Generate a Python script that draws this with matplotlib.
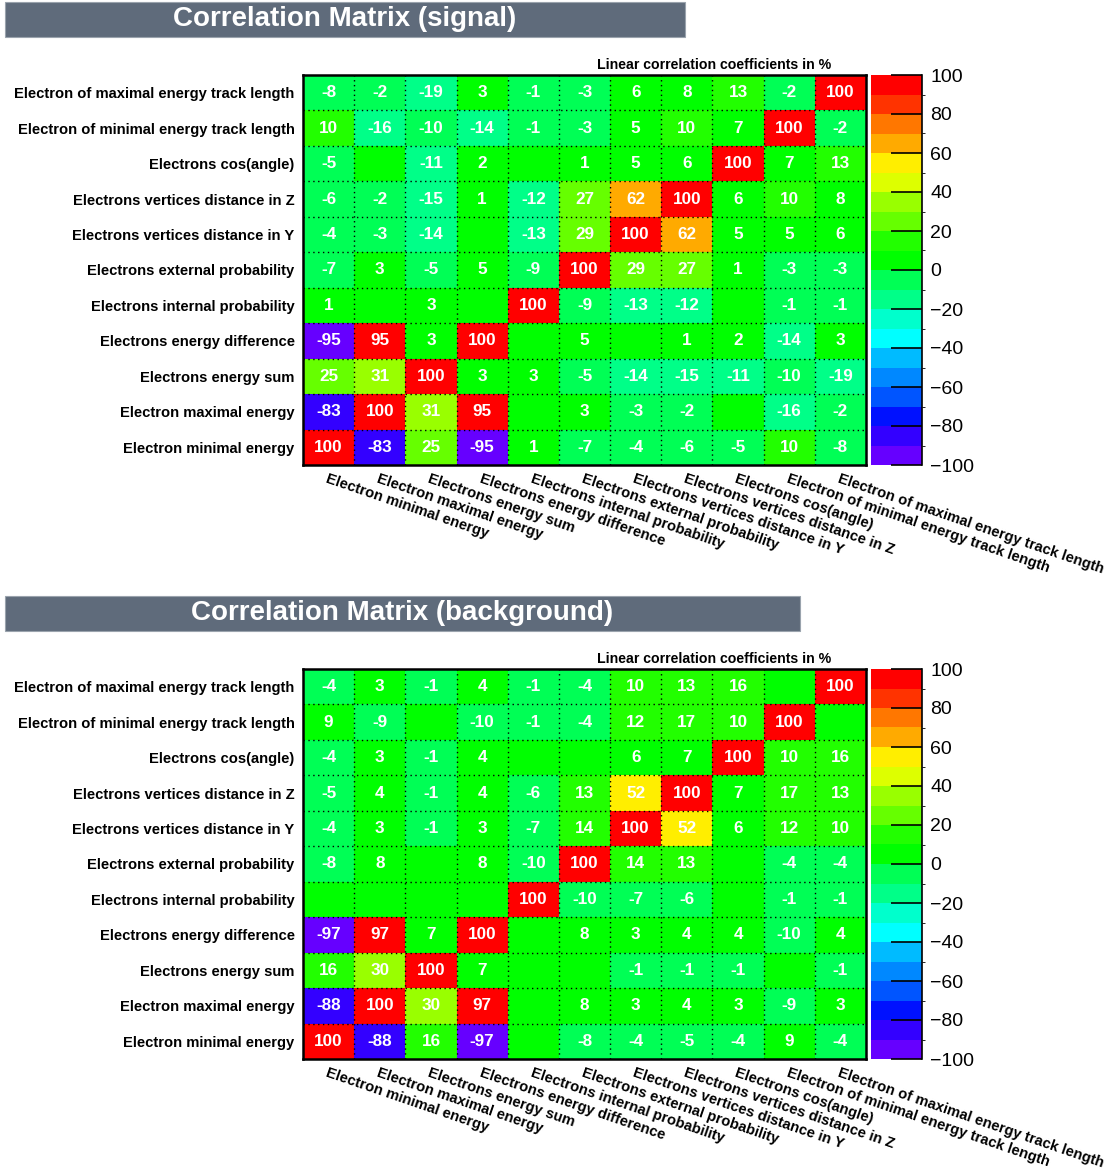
import numpy as np
import matplotlib
matplotlib.use('Agg')
import matplotlib.pyplot as plt
from matplotlib.colors import ListedColormap, BoundaryNorm
from matplotlib.patches import Rectangle

plt.rcParams['font.family'] = ['Liberation Sans', 'DejaVu Sans']

# variables, index 0 is the bottom row / left column
variables = [
    'Electron minimal energy',
    'Electron maximal energy',
    'Electrons energy sum',
    'Electrons energy difference',
    'Electrons internal probability',
    'Electrons external probability',
    'Electrons vertices distance in Y',
    'Electrons vertices distance in Z',
    'Electrons cos(angle)',
    'Electron of minimal energy track length',
    'Electron of maximal energy track length',
]

# correlation in %, row i = variables[i]
signal_corr = [
    [100, -83, 25, -95, 1, -7, -4, -6, -5, 10, -8],
    [-83, 100, 31, 95, 0, 3, -3, -2, 0, -16, -2],
    [25, 31, 100, 3, 3, -5, -14, -15, -11, -10, -19],
    [-95, 95, 3, 100, 0, 5, 0, 1, 2, -14, 3],
    [1, 0, 3, 0, 100, -9, -13, -12, 0, -1, -1],
    [-7, 3, -5, 5, -9, 100, 29, 27, 1, -3, -3],
    [-4, -3, -14, 0, -13, 29, 100, 62, 5, 5, 6],
    [-6, -2, -15, 1, -12, 27, 62, 100, 6, 10, 8],
    [-5, 0, -11, 2, 0, 1, 5, 6, 100, 7, 13],
    [10, -16, -10, -14, -1, -3, 5, 10, 7, 100, -2],
    [-8, -2, -19, 3, -1, -3, 6, 8, 13, -2, 100],
]

background_corr = [
    [100, -88, 16, -97, 0, -8, -4, -5, -4, 9, -4],
    [-88, 100, 30, 97, 0, 8, 3, 4, 3, -9, 3],
    [16, 30, 100, 7, 0, 0, -1, -1, -1, 0, -1],
    [-97, 97, 7, 100, 0, 8, 3, 4, 4, -10, 4],
    [0, 0, 0, 0, 100, -10, -7, -6, 0, -1, -1],
    [-8, 8, 0, 8, -10, 100, 14, 13, 0, -4, -4],
    [-4, 3, -1, 3, -7, 14, 100, 52, 6, 12, 10],
    [-5, 4, -1, 4, -6, 13, 52, 100, 7, 17, 13],
    [-4, 3, -1, 4, 0, 0, 6, 7, 100, 10, 16],
    [9, -9, 0, -10, -1, -4, 12, 17, 10, 100, 0],
    [-4, 3, -1, 4, -1, -4, 10, 13, 16, 0, 100],
]

# ROOT-like rainbow palette, 20 contours
palette = ['#6600ff', '#3300ff', '#0011ff', '#0055ff', '#0088ff', '#00bbff',
           '#00ffff', '#00ffcc', '#00ff88', '#00ff55', '#00ff00', '#22ff00',
           '#66ff00', '#99ff00', '#ddff00', '#ffee00', '#ffaa00', '#ff7700',
           '#ff3300', '#ff0000']
cmap = ListedColormap(palette)
norm = BoundaryNorm(np.linspace(-100, 100, 21), cmap.N)

W, H = 1112, 1171
fig = plt.figure(figsize=(W / 100, H / 100), dpi=100)


def fx(px):
    return px / W


def fy(py):
    return 1 - py / H


def draw_panel(corr, title, y0, title_right):
    # title banner
    fig.add_artist(Rectangle((fx(5), fy(y0 + 35)), fx(title_right) - fx(5), 35 / H,
                             transform=fig.transFigure, facecolor='#5f6b7b',
                             edgecolor='#9aa3ad', linewidth=0.8))
    fig.text(fx((5 + title_right) / 2), fy(y0 + 17), title, color='white',
             fontsize=20, fontweight='bold', ha='center', va='center')

    top, bottom = y0 + 73, y0 + 463
    ax = fig.add_axes([fx(303), fy(bottom), fx(866) - fx(303), (bottom - top) / H])
    data = np.array(corr)
    n = len(variables)
    mesh = ax.pcolormesh(np.arange(n + 1), np.arange(n + 1), data, cmap=cmap, norm=norm)
    for i in range(n):
        for j in range(n):
            if data[i, j] != 0:
                ax.text(j + 0.5, i + 0.5, str(data[i, j]), color='white',
                        fontsize=12.3, fontweight='bold', ha='center', va='center')
    for k in range(1, n):
        ax.axhline(k, color='black', linestyle=(0, (1, 2.5)), linewidth=1)
        ax.axvline(k, color='black', linestyle=(0, (1, 2.5)), linewidth=1)
    ax.set_xlim(0, n)
    ax.set_ylim(0, n)
    for s in ax.spines.values():
        s.set_linewidth(1.8)
    ax.set_yticks(np.arange(n) + 0.5)
    ax.set_yticklabels(variables, fontsize=10.6, fontweight='bold')
    ax.set_xticks(np.arange(n) + 0.5)
    ax.set_xticklabels(variables, fontsize=10.6, fontweight='bold', rotation=-19,
                       ha='left', va='top', rotation_mode='anchor')
    ax.tick_params(length=0, pad=6)
    ax.tick_params(axis='x', pad=5)
    ax.text(0.73, 1.025, 'Linear correlation coefficients in %', transform=ax.transAxes,
            fontsize=10.2, fontweight='bold', ha='center', va='center')

    cax = fig.add_axes([fx(871), fy(bottom), fx(922) - fx(871), (bottom - top) / H])
    cb = fig.colorbar(mesh, cax=cax, ticks=np.arange(-100, 101, 20))
    cb.outline.set_visible(False)
    cax.plot([1, 1], [0, 1], transform=cax.transAxes, color='black', linewidth=1.2,
             clip_on=False)
    cax.tick_params(direction='in', length=22, width=1.2, labelsize=14, pad=6)
    return ax


draw_panel(signal_corr, 'Correlation Matrix (signal)', 2, 685)
draw_panel(background_corr, 'Correlation Matrix (background)', 596, 800)

fig.savefig('out.png', dpi=100)
